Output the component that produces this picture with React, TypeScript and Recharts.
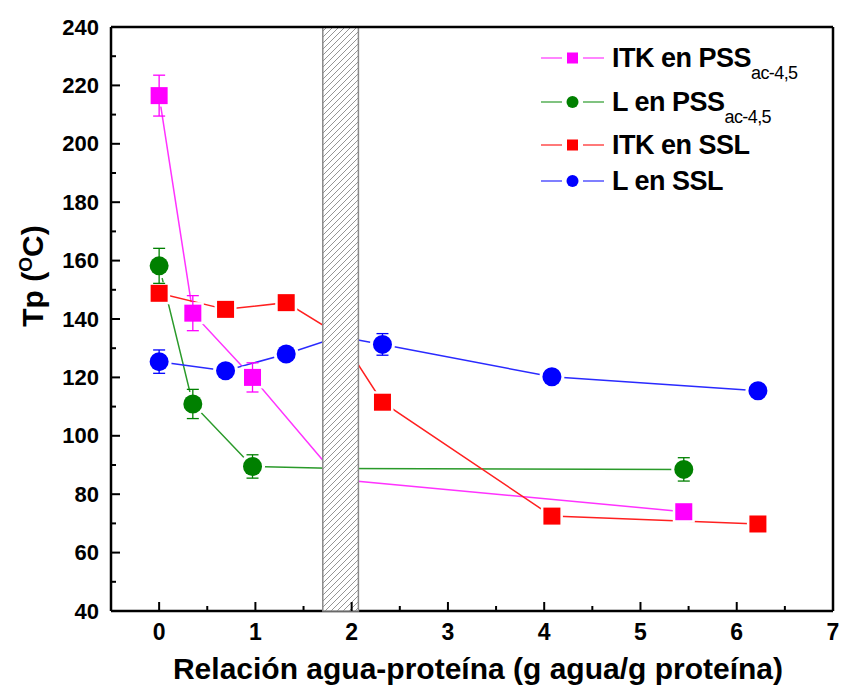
import React from "react";
import {
  ComposedChart,
  Line,
  XAxis,
  YAxis,
  ErrorBar,
  ReferenceArea,
  ReferenceLine,
  Label,
} from "recharts";

// ITK en PSSac-4,5
const itkPssX = [0, 0.35, 0.97, 1.87, 5.45];
const itkPssY = [216.5, 142, 120, 85, 74];
const itkPssErr = [7, 6, 5, 0, 2];

// L en PSSac-4,5
const lPssX = [0, 0.35, 0.97, 1.87, 5.45];
const lPssY = [158.2, 110.9, 89.5, 88.8, 88.5];
const lPssErr = [6, 5, 4, 0, 4];

// ITK en SSL
const itkSslX = [0, 0.69, 1.32, 1.87, 2.32, 4.08, 6.22];
const itkSslY = [148.8, 143.3, 145.6, 134.5, 111.5, 72.5, 69.8];
const itkSslErr = [0, 0, 0, 0, 0, 0, 0];

// L en SSL
const lSslX = [0, 0.69, 1.32, 1.87, 2.32, 4.08, 6.22];
const lSslY = [125.4, 122.3, 128, 134, 131.3, 120.2, 115.4];
const lSslErr = [4, 0, 0, 0, 3.7, 0, 0];

const xTicks = [0, 0.5, 1, 1.5, 2, 2.5, 3, 3.5, 4, 4.5, 5, 5.5, 6, 6.5, 7];
const yTicks = [40, 50, 60, 70, 80, 90, 100, 110, 120, 130, 140, 150, 160, 170, 180, 190, 200, 210, 220, 230, 240];
const hatchBand = [1.7, 2.07];

const zip = (xs: number[], ys: number[], es: number[]) =>
  xs.map((x, i) => ({ x, y: ys[i], err: es[i] }));

const series = [
  { key: "itkPss", name: "ITK en PSS", sub: "ac-4,5", color: "#ff00ff", line: "#ff33ff", shape: "square", data: zip(itkPssX, itkPssY, itkPssErr) },
  { key: "lPss", name: "L en PSS", sub: "ac-4,5", color: "#008000", line: "#2a9a2a", shape: "circle", data: zip(lPssX, lPssY, lPssErr) },
  { key: "itkSsl", name: "ITK en SSL", sub: "", color: "#ff0000", line: "#ff2020", shape: "square", data: zip(itkSslX, itkSslY, itkSslErr) },
  { key: "lSsl", name: "L en SSL", sub: "", color: "#0000ff", line: "#2a2aff", shape: "circle", data: zip(lSslX, lSslY, lSslErr) },
];

const FONT = "'Liberation Sans', Arial, sans-serif";

const makeDot = (shape: string, color: string) => (props: any) => {
  const { cx, cy, index } = props;
  if (cx == null || cy == null) return <g key={`d-${index}`} />;
  if (shape === "square") {
    return (
      <g key={`d-${index}`}>
        <rect x={cx - 11} y={cy - 11} width={22} height={22} fill="#fff" />
        <rect x={cx - 8.5} y={cy - 8.5} width={17} height={17} fill={color} />
      </g>
    );
  }
  return (
    <g key={`d-${index}`}>
      <circle cx={cx} cy={cy} r={12.5} fill="#fff" />
      <circle cx={cx} cy={cy} r={9.5} fill={color} />
    </g>
  );
};

const XTick = (props: any) => {
  const { x, y, payload } = props;
  const major = Number.isInteger(payload.value);
  return (
    <g>
      <line x1={x} x2={x} y1={y} y2={y - (major ? 9 : 5)} stroke="#000" strokeWidth={2} />
      {major && (
        <text x={x} y={y + 29} textAnchor="middle" fontSize={23} fontWeight="bold" fontFamily={FONT} fill="#000">
          {payload.value}
        </text>
      )}
    </g>
  );
};

const YTick = (props: any) => {
  const { x, y, payload } = props;
  const major = payload.value % 20 === 0;
  if (payload.value === 240) {
    return (
      <text x={x - 12} y={y + 7.5} textAnchor="end" fontSize={22} fontWeight="bold" fontFamily={FONT} fill="#000">
        {payload.value}
      </text>
    );
  }
  return (
    <g>
      <line x1={x} x2={x + (major ? 9 : 5)} y1={y} y2={y} stroke="#000" strokeWidth={2} />
      {major && (
        <text x={x - 12} y={y + 7.5} textAnchor="end" fontSize={22} fontWeight="bold" fontFamily={FONT} fill="#000">
          {payload.value}
        </text>
      )}
    </g>
  );
};

const legendRows = [58, 102, 145, 181];

const LegendBox = () => (
  <div style={{ position: "absolute", left: 538, top: 0, width: 304, height: 200, fontFamily: FONT }}>
    {series.map((s, i) => (
      <div
        key={s.key}
        style={{ position: "absolute", left: 0, top: legendRows[i] - 16, height: 32, display: "flex", alignItems: "center", whiteSpace: "nowrap" }}
      >
        <svg width={74} height={32}>
          <line x1={3} x2={24} y1={16} y2={16} stroke={s.line} strokeWidth={1.2} />
          <line x1={45} x2={66} y1={16} y2={16} stroke={s.line} strokeWidth={1.2} />
          {s.shape === "square" ? (
            <rect x={29} y={10.5} width={11} height={11} fill={s.color} />
          ) : (
            <circle cx={34.5} cy={16} r={6} fill={s.color} />
          )}
        </svg>
        <span style={{ fontSize: 27, fontWeight: "bold", color: "#000", letterSpacing: -0.5 }}>
          {s.name}
          {s.sub && (
            <span style={{ fontSize: 18, fontWeight: "normal", position: "relative", top: 12, letterSpacing: -0.6 }}>{s.sub}</span>
          )}
        </span>
      </div>
    ))}
  </div>
);

const YTitle = () => (
  <text transform="translate(43,276) rotate(-90)" textAnchor="middle" fontSize={30} fontWeight="bold" fontFamily={FONT} fill="#000">
    Tp (<tspan fontSize={19} dy={-11}>O</tspan>
    <tspan dy={11}>C)</tspan>
  </text>
);

const XTitle = () => (
  <text x={478} y={679} textAnchor="middle" fontSize={30} fontWeight="bold" fontFamily={FONT} fill="#000">
    Relación agua-proteína (g agua/g proteína)
  </text>
);

export default function App() {
  return (
    <div style={{ position: "absolute", left: 0, top: 0, width: 842, height: 686, background: "#fff" }}>
      <ComposedChart width={842} height={686} margin={{ top: 27, right: 9, bottom: 0, left: 0 }}>
        <defs>
          <pattern id="hatch" patternUnits="userSpaceOnUse" width={6} height={6}>
            <rect width={6} height={6} fill="#fff" />
            <path d="M-1.5,1.5 l3,-3 M0,6 l6,-6 M4.5,7.5 l3,-3" stroke="#959595" strokeWidth={1} />
          </pattern>
        </defs>
        <XAxis
          type="number"
          dataKey="x"
          domain={[-0.5, 7]}
          ticks={xTicks}
          interval={0}
          allowDataOverflow
          height={75}
          tickSize={0}
          tickMargin={0}
          tickLine={false}
          tick={<XTick />}
          axisLine={{ stroke: "#000", strokeWidth: 2.5 }}
        >
          <Label content={<XTitle />} />
        </XAxis>
        <YAxis
          type="number"
          domain={[40, 240]}
          ticks={yTicks}
          interval={0}
          allowDataOverflow
          width={111}
          tickSize={0}
          tickMargin={0}
          tickLine={false}
          tick={<YTick />}
          axisLine={{ stroke: "#000", strokeWidth: 2.5 }}
        >
          <Label content={<YTitle />} />
        </YAxis>
        {series.map((s) => (
          <Line
            key={s.key}
            data={s.data}
            dataKey="y"
            type="linear"
            stroke={s.line}
            strokeWidth={1.5}
            dot={makeDot(s.shape, s.color)}
            activeDot={false}
            isAnimationActive={false}
          >
            <ErrorBar dataKey="err" direction="y" width={6} stroke={s.color} strokeWidth={1.3} zIndex={1000} />
          </Line>
        ))}
        <ReferenceArea
          x1={hatchBand[0]}
          x2={hatchBand[1]}
          y1={40}
          y2={240}
          fill="url(#hatch)"
          fillOpacity={1}
          stroke="#8a8a8a"
          strokeWidth={1.5}
          zIndex={1500}
        />
        <ReferenceLine y={240} stroke="#000" strokeWidth={2.5} zIndex={1600} />
        <ReferenceLine x={7} stroke="#000" strokeWidth={2.5} zIndex={1600} />
      </ComposedChart>
      <LegendBox />
    </div>
  );
}
